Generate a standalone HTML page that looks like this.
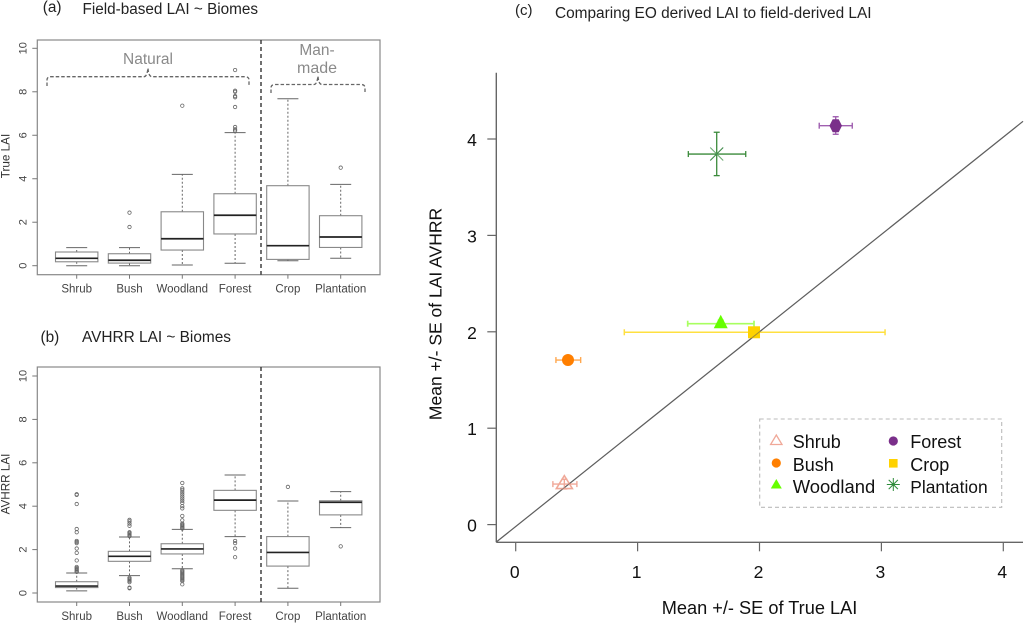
<!DOCTYPE html>
<html lang="en">
<head>
<meta charset="utf-8">
<title>LAI comparison</title>
<style>
html,body{margin:0;padding:0;background:#fff;width:1024px;height:623px;overflow:hidden}
svg{display:block;filter:blur(0.35px);font-family:"Liberation Sans",Arial,sans-serif}
</style>
</head>
<body>
<svg id="fig" width="1024" height="623" viewBox="0 0 1024 623" xmlns="http://www.w3.org/2000/svg">
  <rect x="0" y="0" width="1024" height="623" fill="#fff"/>
  <text x="42.700" y="12" font-size="15.400" fill="#222">(a)</text>
  <text x="82.500" y="14" font-size="15.300" fill="#222">Field-based LAI ~ Biomes</text>
  <text x="40.500" y="342" font-size="15.400" fill="#222">(b)</text>
  <text x="82" y="342" font-size="15.400" fill="#222">AVHRR LAI ~ Biomes</text>
  <text x="515" y="15" font-size="15" fill="#222">(c)</text>
  <text x="555" y="18" font-size="15.400" fill="#222">Comparing EO derived LAI to field-derived LAI</text>

  <text transform="translate(9.500,156) rotate(-90)" text-anchor="middle" font-size="11.700" fill="#333">True LAI</text>
  <text transform="translate(9.500,484) rotate(-90)" text-anchor="middle" font-size="11.700" fill="#333">AVHRR LAI</text>

  <path d="M47 86 L47 80 Q47 76.7 51 76.7 L144 76.7 Q147 76.7 148 68 Q148.500 76.700 152 76.700 L245 76.700 Q249 76.700 249 80 L249 86" fill="none" stroke="#666" stroke-width="1.300" stroke-dasharray="3.500 2"/>
  <path d="M271 93 L271 88 Q271 84.500 275 84.500 L314 84.500 Q317 84.500 318 76 Q318.500 84.500 322 84.500 L361 84.500 Q365 84.500 365 88 L365 93" fill="none" stroke="#666" stroke-width="1.300" stroke-dasharray="3.500 2"/>
  <text x="148" y="64" text-anchor="middle" font-size="15.500" fill="#8a8a8a">Natural</text>
  <text x="317" y="55" text-anchor="middle" font-size="15.500" fill="#8a8a8a">Man-</text>
  <text x="317" y="73" text-anchor="middle" font-size="16" fill="#8a8a8a">made</text>

  <text transform="translate(441.500,314) rotate(-90)" text-anchor="middle" font-size="17.500" fill="#111">Mean +/- SE of LAI AVHRR</text>
  <text x="759.500" y="614" text-anchor="middle" font-size="18.200" fill="#111">Mean +/- SE of True LAI</text>

  <g>
    <rect x="759.700" y="419" width="242" height="88.300" fill="#fff" stroke="#bbb" stroke-width="1.100" stroke-dasharray="4 3"/>
    <text x="792.700" y="448" font-size="18" fill="#111">Shrub</text>
    <text x="792.700" y="471" font-size="18" fill="#111">Bush</text>
    <text x="792.700" y="493" font-size="18.400" fill="#111">Woodland</text>
    <text x="910.300" y="448" font-size="18" fill="#111">Forest</text>
    <text x="910.300" y="471" font-size="18" fill="#111">Crop</text>
    <text x="910.300" y="493" font-size="17.400" fill="#111">Plantation</text>
    <path d="M776.300 435 L782 444.500 L770.600 444.500 Z" fill="none" stroke="#f0a898" stroke-width="1.300"/>
    <circle cx="776.300" cy="463" r="4.600" fill="#ff7f00"/>
    <path d="M776.300 479 L781.800 488.500 L770.800 488.500 Z" fill="#66ff00"/>
    <circle cx="893.300" cy="441" r="4.600" fill="#7a2f8a"/>
    <rect x="889" y="459" width="8.600" height="8.600" fill="#ffd200"/>
    <path d="M893.300 478 V491 M886.800 484.500 H899.800 M888.700 479.900 L897.900 489.100 M897.900 479.900 L888.700 489.100" stroke="#2e8b3a" stroke-width="1" fill="none"/>
  </g>
  <g id="panel-a"></g>
  <g id="panel-b"></g>
  <g id="panel-c"></g>
</svg>
<script>
const categories = ['Shrub', 'Bush', 'Woodland', 'Forest', 'Crop', 'Plantation'];
const boxTickLabels = [0, 2, 4, 6, 8, 10];

const aLow = [0, 0, 0.03, 0.11, 0.23, 0.34];
const aQ1 = [0.18, 0.12, 0.72, 1.46, 0.29, 0.84];
const aMedian = [0.34, 0.25, 1.24, 2.32, 0.92, 1.32];
const aQ3 = [0.63, 0.55, 2.48, 3.31, 3.68, 2.3];
const aHigh = [0.83, 0.83, 4.2, 6.12, 7.68, 3.74];
const aOutliers = [
  [],
  [1.78, 2.44],
  [7.36],
  [6.2, 6.27, 6.38, 7.3, 7.75, 7.8, 8.0, 8.05, 9.0],
  [],
  [4.51]
];

const bLow = [0.1, 0.8, 1.12, 2.6, 0.22, 3.01];
const bQ1 = [0.25, 1.46, 1.8, 3.81, 1.24, 3.6];
const bMedian = [0.32, 1.69, 2.03, 4.28, 1.87, 4.18];
const bQ3 = [0.52, 1.92, 2.27, 4.73, 2.6, 4.25];
const bHigh = [0.92, 2.58, 2.93, 5.44, 4.24, 4.67];
const bOutliers = [
  [0.97, 1.0, 1.05, 1.1, 1.15, 1.2, 1.5, 1.85, 2.05, 2.3, 2.35, 2.4, 2.8, 2.95, 4.1, 4.52, 4.55],
  [0.22, 0.25, 0.5, 0.55, 0.6, 0.65, 0.7, 2.62, 2.67, 2.72, 2.77, 2.8, 3.1, 3.2, 3.3, 3.37],
  [0.4, 0.55, 0.6, 0.65, 0.7, 0.75, 0.8, 0.85, 0.9, 0.95, 1.0, 1.05, 2.97, 3.0, 3.05, 3.1, 3.15, 3.2, 3.35, 3.55, 3.9, 4.0, 4.15, 4.25, 4.35, 4.45, 4.55, 4.65, 4.75, 4.82, 5.07],
  [2.4, 2.3, 2.05, 1.65],
  [4.89],
  [2.15]
];

const scatterTicks = [0, 1, 2, 3, 4];
const cMeanX = [0.399, 0.429, 1.682, 2.625, 1.955, 1.649];
const cMeanY = [0.42, 1.707, 2.084, 4.138, 1.995, 3.844];
const cXLow = [0.305, 0.33, 1.411, 2.49, 0.891, 1.416];
const cXHigh = [0.502, 0.533, 1.955, 2.761, 3.03, 1.887];
const cYLow = [0.37, 1.66, 2.05, 4.049, 1.985, 3.62];
const cYHigh = [0.47, 1.75, 2.12, 4.231, 2.005, 4.07];
const refIntercept = -0.02;
const refSlope = 1.01;
</script>
<script>
const NS = 'http://www.w3.org/2000/svg';
const fmt = function (v) { return Math.round(v * 100) / 100; };

function makeLine(parent, x1, y1, x2, y2, stroke, width, name, dash) {
  const el = document.createElementNS(NS, 'line');
  el.setAttribute('x1', fmt(x1));
  el.setAttribute('y1', fmt(y1));
  el.setAttribute('x2', fmt(x2));
  el.setAttribute('y2', fmt(y2));
  el.setAttribute('stroke', stroke);
  el.setAttribute('stroke-width', width);
  if (dash) el.setAttribute('stroke-dasharray', dash);
  
  
  parent.appendChild(el);
  return el;
}

function makeText(parent, x, y, str, size, fill, anchor, name, rotate) {
  const el = document.createElementNS(NS, 'text');
  if (rotate) {
    el.setAttribute('transform', 'translate(' + fmt(x) + ',' + fmt(y) + ') rotate(-90)');
  } else {
    el.setAttribute('x', fmt(x));
    el.setAttribute('y', fmt(y));
  }
  el.setAttribute('font-size', size);
  el.setAttribute('fill', fill);
  el.setAttribute('text-anchor', anchor);
  el.textContent = str;
  
  
  parent.appendChild(el);
  return el;
}

function drawBoxPanel(parent, top, bottom, zeroY, tenY, low, q1, med, q3, high, outliers, prefix) {
  const left = 37.3, right = 380;
  const sx = function (i) { return 76.7 + i * 52.8; };
  const sy = function (v) { return zeroY + (tenY - zeroY) * v / 10; };
  const halfW = 21.2;

  const frame = document.createElementNS(NS, 'rect');
  frame.setAttribute('x', left);
  frame.setAttribute('y', top);
  frame.setAttribute('width', right - left);
  frame.setAttribute('height', bottom - top);
  frame.setAttribute('fill', 'none');
  frame.setAttribute('stroke', '#888');
  frame.setAttribute('stroke-width', '1.2');
  
  
  parent.appendChild(frame);

  boxTickLabels.forEach(function (t) {
    makeLine(parent, left - 5, sy(t), left, sy(t), '#777', 1, prefix + '-y-tick');
    makeText(parent, 26.7, sy(t), String(t), 11, '#444', 'middle', prefix + '-y-tick-label', true);
  });

  categories.forEach(function (c, i) {
    const x = sx(i);
    makeLine(parent, x, bottom, x, bottom + 4, '#777', 1, prefix + '-x-tick');
    makeText(parent, x, bottom + 18, c, 11.5, '#444', 'middle', prefix + '-x-tick-label');
    makeLine(parent, x, sy(q3[i]), x, sy(high[i]), '#666', 1, prefix + '-whisker-high', '2 2');
    makeLine(parent, x, sy(q1[i]), x, sy(low[i]), '#666', 1, prefix + '-whisker-low', '2 2');
    makeLine(parent, x - 10.5, sy(high[i]), x + 10.5, sy(high[i]), '#666', 1, prefix + '-cap-high');
    makeLine(parent, x - 10.5, sy(low[i]), x + 10.5, sy(low[i]), '#666', 1, prefix + '-cap-low');

    const box = document.createElementNS(NS, 'rect');
    box.setAttribute('x', fmt(x - halfW));
    box.setAttribute('y', fmt(sy(q3[i])));
    box.setAttribute('width', fmt(halfW * 2));
    box.setAttribute('height', fmt(sy(q1[i]) - sy(q3[i])));
    box.setAttribute('fill', '#fff');
    box.setAttribute('stroke', '#888');
    box.setAttribute('stroke-width', '1.1');
    
    
    parent.appendChild(box);

    makeLine(parent, x - halfW, sy(med[i]), x + halfW, sy(med[i]), '#222', 1.7, prefix + '-median');

    outliers[i].forEach(function (v) {
      const dot = document.createElementNS(NS, 'circle');
      dot.setAttribute('cx', fmt(x));
      dot.setAttribute('cy', fmt(sy(v)));
      dot.setAttribute('r', '1.7');
      dot.setAttribute('fill', 'none');
      dot.setAttribute('stroke', '#666');
      dot.setAttribute('stroke-width', '0.8');
      
      
      parent.appendChild(dot);
    });
  });

  makeLine(parent, 261, top, 261, bottom, '#333', 1.4, prefix + '-divider', '4 3');
}

drawBoxPanel(document.getElementById('panel-a'), 40, 274.7, 265.7, 48.3, aLow, aQ1, aMedian, aQ3, aHigh, aOutliers, 'field');
drawBoxPanel(document.getElementById('panel-b'), 367, 602, 593, 376, bLow, bQ1, bMedian, bQ3, bHigh, bOutliers, 'avhrr');

(function drawScatter() {
  const parent = document.getElementById('panel-c');
  const sx = function (v) { return 515.7 + v * 121.9; };
  const sy = function (v) { return 524.6 - v * 96.4; };
  const axisX = 496.3, axisY = 542.3;
  const errColors = ['#f0a898', '#ffa850', '#a8ff60', '#a060b0', '#ffe040', '#3a8a3a'];
  const errWidths = [1.4, 1.4, 1.7, 1.4, 1.5, 1.3];

  makeLine(parent, axisX, 72.7, axisX, axisY, '#666', 1.4, 'scatter-y-axis');
  makeLine(parent, axisX, axisY, 1023, axisY, '#666', 1.4, 'scatter-x-axis');

  scatterTicks.forEach(function (t) {
    makeLine(parent, sx(t), axisY, sx(t), axisY + 9, '#666', 1.2, 'scatter-x-tick');
    makeText(parent, sx(t) - 1, 578, String(t), 17.5, '#111', 'middle', 'scatter-x-tick-label');
    makeLine(parent, axisX - 9, sy(t), axisX, sy(t), '#666', 1.2, 'scatter-y-tick');
    makeText(parent, 472, sy(t) + 7, String(t), 17.5, '#111', 'middle', 'scatter-y-tick-label');
  });

  const xStart = (axisX - 515.7) / 121.9;
  const xEnd = (1023 - 515.7) / 121.9;
  makeLine(parent, sx(xStart), sy(refIntercept + refSlope * xStart), sx(xEnd), sy(refIntercept + refSlope * xEnd), '#666', 1.2, 'one-to-one-line');

  categories.forEach(function (c, i) {
    const x = sx(cMeanX[i]), y = sy(cMeanY[i]);
    const col = errColors[i];
    const w = errWidths[i];
    const key = c.toLowerCase();
    makeLine(parent, sx(cXLow[i]), y, sx(cXHigh[i]), y, col, w, key + '-x-error-bar');
    makeLine(parent, sx(cXLow[i]), y - 3, sx(cXLow[i]), y + 3, col, w, key + '-x-error-cap');
    makeLine(parent, sx(cXHigh[i]), y - 3, sx(cXHigh[i]), y + 3, col, w, key + '-x-error-cap');
    makeLine(parent, x, sy(cYLow[i]), x, sy(cYHigh[i]), col, w, key + '-y-error-bar');
    makeLine(parent, x - 3, sy(cYLow[i]), x + 3, sy(cYLow[i]), col, w, key + '-y-error-cap');
    makeLine(parent, x - 3, sy(cYHigh[i]), x + 3, sy(cYHigh[i]), col, w, key + '-y-error-cap');
  });

  const shrub = document.createElementNS(NS, 'path');
  const sxv = sx(cMeanX[0]), syv = sy(cMeanY[0]);
  shrub.setAttribute('d', 'M' + fmt(sxv) + ' ' + fmt(syv - 8.5) + ' L' + fmt(sxv + 8) + ' ' + fmt(syv + 4.5) + ' L' + fmt(sxv - 8) + ' ' + fmt(syv + 4.5) + ' Z');
  shrub.setAttribute('fill', 'none');
  shrub.setAttribute('stroke', '#f0a898');
  shrub.setAttribute('stroke-width', '1.6');
  
  
  parent.appendChild(shrub);

  const bush = document.createElementNS(NS, 'circle');
  bush.setAttribute('cx', fmt(sx(cMeanX[1])));
  bush.setAttribute('cy', fmt(sy(cMeanY[1])));
  bush.setAttribute('r', '6');
  bush.setAttribute('fill', '#ff7f00');
  
  
  parent.appendChild(bush);

  const wood = document.createElementNS(NS, 'path');
  const wx = sx(cMeanX[2]), wy = sy(cMeanY[2]);
  wood.setAttribute('d', 'M' + fmt(wx) + ' ' + fmt(wy - 9) + ' L' + fmt(wx + 7) + ' ' + fmt(wy + 4.5) + ' L' + fmt(wx - 7) + ' ' + fmt(wy + 4.5) + ' Z');
  wood.setAttribute('fill', '#66ff00');
  
  
  parent.appendChild(wood);

  const forest = document.createElementNS(NS, 'path');
  const fx = sx(cMeanX[3]), fy = sy(cMeanY[3]);
  forest.setAttribute('d', 'M' + fmt(fx - 3) + ' ' + fmt(fy - 6.5) + ' H' + fmt(fx + 3) + ' L' + fmt(fx + 6.3) + ' ' + fmt(fy) + ' L' + fmt(fx + 3) + ' ' + fmt(fy + 6.5) + ' H' + fmt(fx - 3) + ' L' + fmt(fx - 6.3) + ' ' + fmt(fy) + ' Z');
  forest.setAttribute('fill', '#7a2f8a');
  
  
  parent.appendChild(forest);

  const crop = document.createElementNS(NS, 'rect');
  crop.setAttribute('x', fmt(sx(cMeanX[4]) - 6));
  crop.setAttribute('y', fmt(sy(cMeanY[4]) - 6));
  crop.setAttribute('width', '12');
  crop.setAttribute('height', '12');
  crop.setAttribute('fill', '#ffd200');
  
  
  parent.appendChild(crop);

  const px = sx(cMeanX[5]), py = sy(cMeanY[5]);
  makeLine(parent, px - 6.5, py - 6.5, px + 6.5, py + 6.5, '#6aa870', 1, 'plantation-point');
  makeLine(parent, px + 6.5, py - 6.5, px - 6.5, py + 6.5, '#3f8a4a', 1.1, 'plantation-point');

  makeLine(parent, sx(xStart), sy(refIntercept + refSlope * xStart), sx(xEnd), sy(refIntercept + refSlope * xEnd), 'rgba(90,90,90,0.55)', 1, 'one-to-one-line-overlay');
})();
</script>
</body>
</html>
